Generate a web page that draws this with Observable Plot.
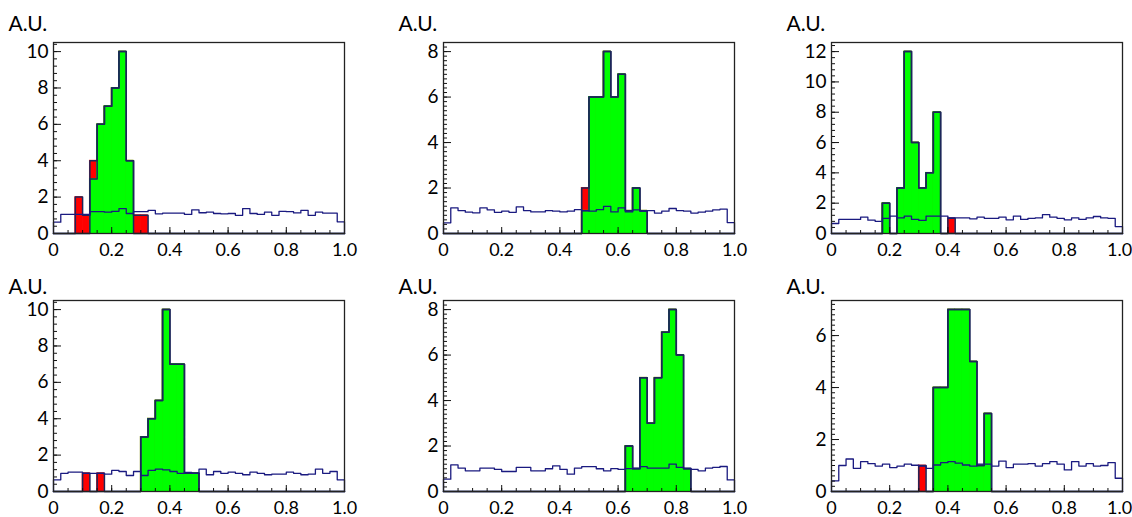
<!DOCTYPE html>
<html><head><meta charset="utf-8">
<script src="https://cdn.jsdelivr.net/npm/d3@7"></script>
<script src="https://cdn.jsdelivr.net/npm/@observablehq/plot@0.6"></script>
<style>
html,body{margin:0;padding:0;background:#fff;overflow:hidden;}
#root{position:relative;width:1132px;height:517px;overflow:hidden;background:#fff;}
#root svg{position:absolute;}
</style></head><body><div id="root"></div>
<script>
// ---- data: 40 bins on [0,1] per panel ----
const green1 = [0,0,0,0,0, 3,6,7,8,10, 4,0,0,0,0, 0,0,0,0,0, 0,0,0,0,0, 0,0,0,0,0, 0,0,0,0,0, 0,0,0,0,0];
const red1   = [0,0,0,2,1, 1,0,0,0,0, 0,1,1,0,0, 0,0,0,0,0, 0,0,0,0,0, 0,0,0,0,0, 0,0,0,0,0, 0,0,0,0,0];
const blue1  = [0.62,1.05,1.05,1.05,1.05, 1.2,1.2,1.17,1.22,1.37, 1.1,1.2,1.2,1.27,1.08, 1.12,1.12,1.12,1.05,1.3, 1.14,1.17,1.1,1.08,1.1, 1.0,1.37,1.1,1.05,1.17, 1.0,1.22,1.2,1.13,1.27, 1.0,1.17,1.12,1.12,0.64];

const green2 = [0,0,0,0,0, 0,0,0,0,0, 0,0,0,0,0, 0,0,0,0,1, 6,6,8,6,7, 1,2,1,0,0, 0,0,0,0,0, 0,0,0,0,0];
const red2   = [0,0,0,0,0, 0,0,0,0,0, 0,0,0,0,0, 0,0,0,0,1, 0,0,0,0,0, 0,0,0,0,0, 0,0,0,0,0, 0,0,0,0,0];
const blue2  = [0.47,1.13,1.01,0.94,0.91, 1.13,1.04,0.93,0.98,0.93, 1.17,1.01,0.95,0.95,1.01, 0.98,0.95,0.98,1.05,1.01, 0.98,1.05,1.19,0.95,1.13, 0.95,1.04,0.98,1.01,0.9, 0.98,1.1,1.01,0.98,0.9, 0.94,0.98,1.04,1.07,0.48];

const green3 = [0,0,0,0,0, 0,0,2,0,3, 12,6,3,4,8, 0,0,0,0,0, 0,0,0,0,0, 0,0,0,0,0, 0,0,0,0,0, 0,0,0,0,0];
const red3   = [0,0,0,0,0, 0,0,0,0,0, 0,0,0,0,0, 0,1,0,0,0, 0,0,0,0,0, 0,0,0,0,0, 0,0,0,0,0, 0,0,0,0,0];
const blue3  = [0.66,0.93,0.93,0.93,1.08, 0.88,0.8,1.0,1.15,1.03, 1.15,0.93,0.86,1.15,1.15, 1.15,1.03,1.03,1.03,0.97, 1.08,1.0,1.0,1.08,0.9, 1.15,0.93,1.0,1.03,1.25, 1.08,1.0,0.9,1.03,0.93, 1.03,1.12,1.03,1.0,0.46];

const green4 = [0,0,0,0,0, 0,0,0,0,0, 0,0,3,4,5, 10,7,7,1,1, 0,0,0,0,0, 0,0,0,0,0, 0,0,0,0,0, 0,0,0,0,0];
const red4   = [0,0,0,0,1, 0,1,0,0,0, 0,0,0,0,0, 0,0,0,0,0, 0,0,0,0,0, 0,0,0,0,0, 0,0,0,0,0, 0,0,0,0,0];
const blue4  = [0.64,1.0,1.06,1.06,1.0, 1.0,1.0,0.95,1.16,1.1, 0.88,1.1,0.88,1.16,1.23, 1.19,1.1,1.0,1.05,1.0, 1.23,0.92,1.1,1.0,1.06, 1.0,0.92,1.06,1.0,0.92, 0.95,0.95,1.06,1.0,0.92, 0.95,1.23,1.0,1.1,0.64];

const green5 = [0,0,0,0,0, 0,0,0,0,0, 0,0,0,0,0, 0,0,0,0,0, 0,0,0,0,0, 2,1,5,3,5, 7,8,6,1,0, 0,0,0,0,0];
const red5   = [0,0,0,0,0, 0,0,0,0,0, 0,0,0,0,0, 0,0,0,0,0, 0,0,0,0,0, 0,0,0,0,0, 0,0,0,0,0, 0,0,0,0,0];
const blue5  = [0.54,1.17,1.03,0.91,0.91, 1.03,1.03,0.97,0.88,0.88, 1.06,1.06,0.91,0.91,1.0, 1.13,0.97,0.76,1.03,1.09, 1.09,1.0,0.91,1.01,0.97, 1.01,1.03,1.09,1.03,1.03, 1.03,1.2,1.06,1.03,0.97, 0.91,1.03,1.06,1.1,0.51];

const green6 = [0,0,0,0,0, 0,0,0,0,0, 0,0,0,0,4, 4,7,7,7,5, 1,3,0,0,0, 0,0,0,0,0, 0,0,0,0,0, 0,0,0,0,0];
const red6   = [0,0,0,0,0, 0,0,0,0,0, 0,0,1,0,0, 0,0,0,0,0, 0,0,0,0,0, 0,0,0,0,0, 0,0,0,0,0, 0,0,0,0,0];
const blue6  = [0.41,1.0,1.25,0.89,1.15, 1.07,0.98,1.05,0.92,0.98, 1.05,1.01,0.98,0.89,1.02, 1.11,1.15,1.09,1.02,0.98, 1.05,1.05,0.98,1.17,0.92, 1.05,1.05,1.07,0.98,1.07, 1.15,1.05,0.83,1.15,0.98, 1.07,0.98,1.0,1.11,0.51];

const xTickLabels = ["0", "0.2", "0.4", "0.6", "0.8", "1.0"];
const yLabel = "A.U.";

// ---- layout ----
const FW = 291, FH = 191, ML = 53, MR = 14, MT = 42, MB = 24;
const panels = [
  {green: green1, red: red1, blue: blue1, minor: 0.4, left: 0,   top: 0,   auDy: -12, edge: false},
  {green: green2, red: red2, blue: blue2, minor: 0.2, left: 390, top: 0,   auDy: -12, edge: false},
  {green: green3, red: red3, blue: blue3, minor: 0.4, left: 778, top: 0,   auDy: -12, edge: true},
  {green: green4, red: red4, blue: blue4, minor: 0.4, left: 0,   top: 258, auDy: -7,  edge: false},
  {green: green5, red: red5, blue: blue5, minor: 0.2, left: 390, top: 258, auDy: -7,  edge: false},
  {green: green6, red: red6, blue: blue6, minor: 0.2, left: 778, top: 258, auDy: -7,  edge: true}
];
const OUT = "#1c2659", BLUE = "#1a1a80", TICK = "#111", GREEN = "#00ff00", RED = "#ff0000";
const xMajor = xTickLabels.map(Number);
const FSX = 18, FSY = 19;

const root = document.getElementById("root");
for (const p of panels) {
  const n = p.blue.length, w = 1 / n;
  const rows = p.blue.map((b, i) => ({x1: i * w, x2: (i + 1) * w, g: p.green[i], t: p.green[i] + p.red[i], b}));
  const ymax = 1.05 * d3.max(rows, d => d.t);
  const stepPts = key => [{x: 0, y: 0}, ...rows.map(r => ({x: r.x1, y: r[key]})), {x: 1, y: 0}];
  const yMajor = d3.range(0, ymax + 1e-9, 2);
  const yMinor = d3.range(0, ymax + 1e-9, p.minor);
  const xMinor = d3.range(0, 1.0001, 0.05);
  const fmt = d => xTickLabels[xMajor.indexOf(d)];
  const mainX = p.edge ? xMajor.slice(0, -1) : xMajor;
  const xAxes = [Plot.axisX({ticks: mainX, tickSize: 0, tickPadding: 10, tickFormat: fmt, fontSize: FSX, label: null})];
  if (p.edge) xAxes.push(Plot.axisX({ticks: xMajor.slice(-1), tickSize: 0, tickPadding: 10, tickFormat: fmt, fontSize: FSX, label: null, dx: -3}));
  const svg = Plot.plot({
    width: ML + FW + MR, height: MT + FH + MB,
    marginLeft: ML, marginRight: MR, marginTop: MT, marginBottom: MB,
    x: {domain: [0, 1]},
    y: {domain: [0, ymax]},
    style: {fontFamily: "Lato, sans-serif", fontSize: "16px", color: "#000", background: "transparent", overflow: "visible"},
    marks: [
      Plot.rect(rows.filter(r => r.t > 0), {x1: "x1", x2: "x2", y1: 0, y2: "t", fill: RED, stroke: RED, strokeWidth: 0.8}),
      Plot.rect(rows.filter(r => r.g > 0), {x1: "x1", x2: "x2", y1: 0, y2: "g", fill: GREEN, stroke: GREEN, strokeWidth: 0.8}),
      Plot.line(stepPts("t"), {x: "x", y: "y", curve: "step-after", stroke: OUT, strokeWidth: 1.5}),
      Plot.line(stepPts("g"), {x: "x", y: "y", curve: "step-after", stroke: OUT, strokeWidth: 1.5}),
      Plot.line(stepPts("b"), {x: "x", y: "y", curve: "step-after", stroke: BLUE, strokeWidth: 1.3}),
      Plot.tickY(yMinor, {y: d => d, insetRight: FW - 4, stroke: TICK}),
      Plot.tickY(yMajor, {y: d => d, insetRight: FW - 8, stroke: TICK}),
      Plot.tickX(xMinor, {x: d => d, insetTop: FH - 3, stroke: TICK}),
      Plot.tickX(xMajor, {x: d => d, insetTop: FH - 6, stroke: TICK}),
      ...xAxes,
      Plot.axisY({ticks: yMajor, tickSize: 0, tickPadding: 5, tickFormat: d => String(d), fontSize: FSY, label: null}),
      Plot.frame({stroke: "#222", strokeWidth: 1.3}),
      Plot.text([yLabel], {text: d => d, frameAnchor: "top-left", dx: -45, dy: p.auDy, textAnchor: "start", lineAnchor: "bottom", fontSize: 21, fill: "#000"})
    ]
  });
  svg.style.left = p.left + "px";
  svg.style.top = p.top + "px";
  root.appendChild(svg);
}
</script>
</body></html>
